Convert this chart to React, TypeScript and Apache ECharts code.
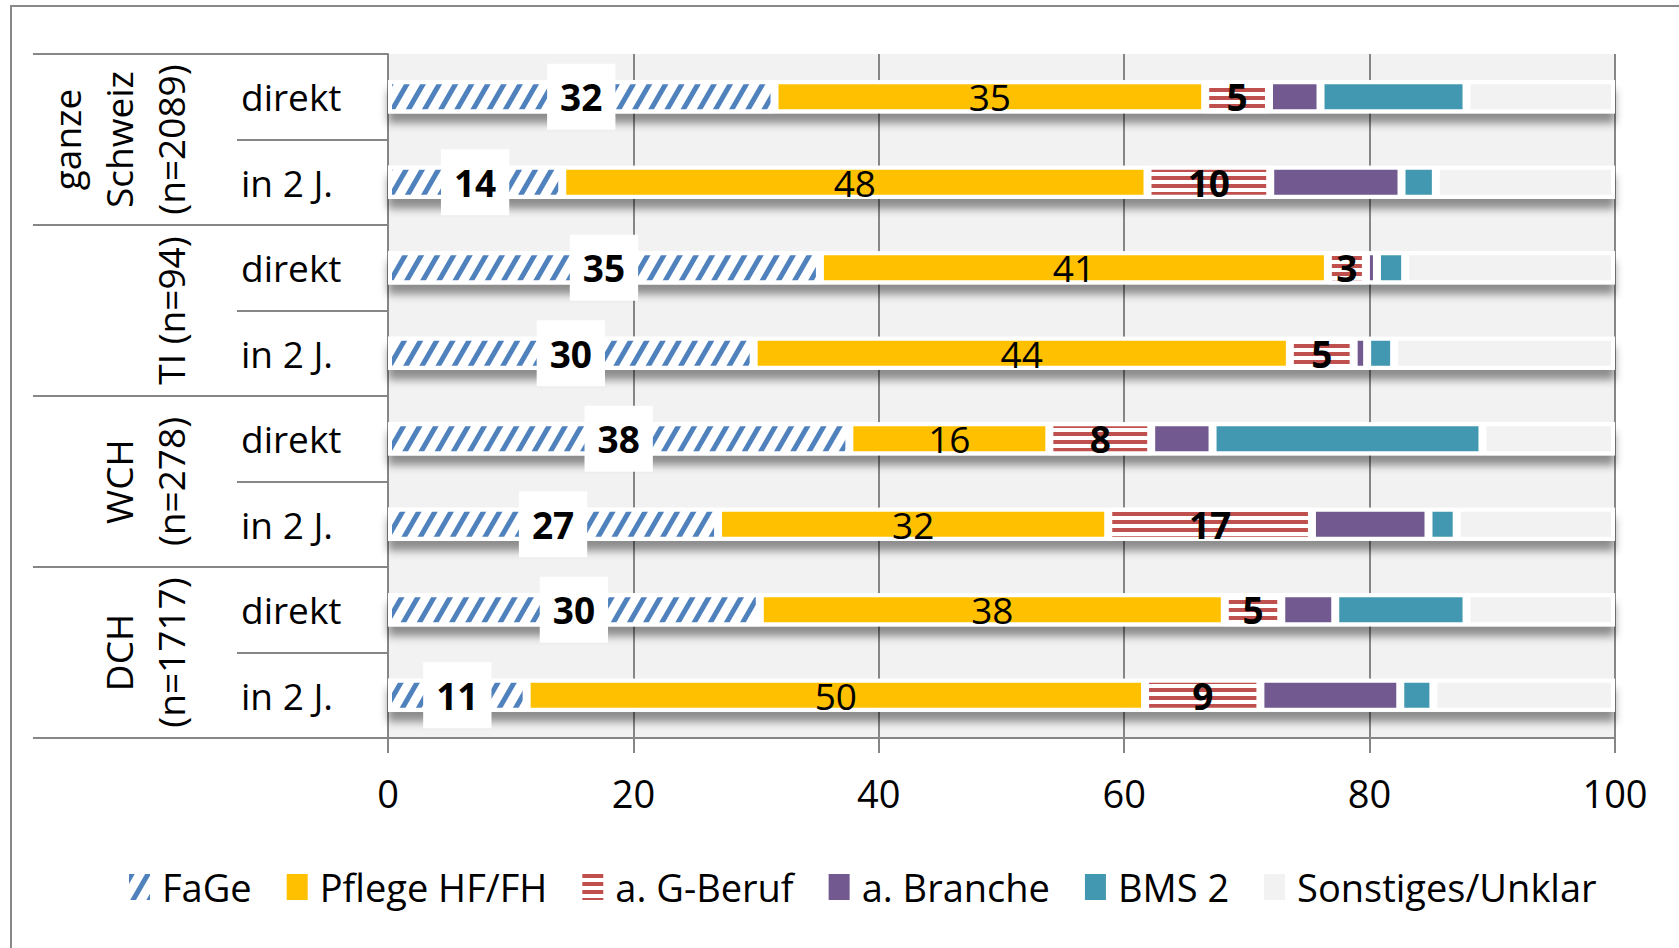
import React, { useEffect, useRef } from "react";
import * as echarts from "echarts";

const rowLabels = ["direkt", "in 2 J.", "direkt", "in 2 J.", "direkt", "in 2 J.", "direkt", "in 2 J."];
const groupLabels = ["ganze\nSchweiz\n(n=2089)", "TI (n=94)", "WCH\n(n=278)", "DCH\n(n=1717)"];
const seriesNames = ["FaGe", "Pflege HF/FH", "a. G-Beruf", "a. Branche", "BMS 2", "Sonstiges/Unklar"];

const fage = [31.5, 14.2, 35.2, 29.8, 37.6, 26.9, 30.3, 11.3];
const pflege = [35.1, 47.7, 41.4, 43.7, 16.3, 31.8, 37.9, 50.4];
const gBeruf = [5.2, 10.0, 3.1, 5.2, 8.3, 16.6, 4.6, 9.4];
const branche = [4.2, 10.7, 0.9, 1.1, 5.0, 9.5, 4.4, 11.4];
const bms = [11.9, 2.8, 2.3, 2.2, 22.0, 2.3, 10.7, 2.7];
const sonstiges = [12.1, 14.6, 17.1, 18.0, 10.8, 12.9, 12.1, 14.8];
// each row totals 100 % (used for the white backing band with its shadow)
const rowTotals = [100, 100, 100, 100, 100, 100, 100, 100];

const FONT = "'Open Sans', 'DejaVu Sans', sans-serif";
const GRAY = "#868686";

export default function App() {
  const ref = useRef<HTMLDivElement>(null);
  useEffect(() => {
    if (!ref.current) return;
    const chart = echarts.init(ref.current, null, { renderer: "svg" });

    const baseItem = {
      borderColor: "#ffffff",
      borderWidth: 4,
    };
    const fmt = (p: any) => String(Math.round(p.value));

    const mk = (name: string, data: number[], itemStyle: any, label: any) => ({
      name,
      type: "bar",
      stack: "total",
      barWidth: 33,
      barGap: "-100%",
      data,
      itemStyle: { ...baseItem, ...itemStyle },
      label,
      emphasis: { disabled: true },
    });

    const series = [
      {
        name: "_band",
        type: "bar",
        barWidth: 33,
        barGap: "-100%",
        data: rowTotals,
        silent: true,
        itemStyle: {
          color: "#ffffff",
          borderColor: "#ffffff",
          borderWidth: 4,
          shadowBlur: 8,
          shadowOffsetY: 10,
          shadowColor: "rgba(0,0,0,0.42)",
        },
        label: { show: false },
        emphasis: { disabled: true },
      },
      mk(
        seriesNames[0],
        fage,
        {
          color: "#ffffff",
          decal: {
            symbol: "rect",
            symbolSize: 1,
            color: "#4F81BD",
            dashArrayX: [1, 0],
            dashArrayY: [5, 8.5],
            rotation: -Math.PI / 3,
          },
        },
        {
          show: true,
          position: "inside",
          formatter: fmt,
          fontFamily: FONT,
          fontSize: 37,
          fontWeight: "bold",
          color: "#000",
          textBorderWidth: 0,
          backgroundColor: "#ffffff",
          padding: [14, 13],
          lineHeight: 38,
        }
      ),
      mk(
        seriesNames[1],
        pflege,
        { color: "#FFC000" },
        {
          show: true,
          position: "inside",
          formatter: fmt,
          fontFamily: FONT,
          fontSize: 37,
          color: "#000",
          textBorderWidth: 0,
        }
      ),
      mk(
        seriesNames[2],
        gBeruf,
        {
          color: "#ffffff",
          decal: {
            symbol: "rect",
            symbolSize: 1,
            color: "#C0504D",
            dashArrayX: [1, 0],
            dashArrayY: [4, 4],
            rotation: 0,
          },
        },
        {
          show: true,
          position: "inside",
          formatter: fmt,
          fontFamily: FONT,
          fontSize: 37,
          fontWeight: "bold",
          color: "#000",
          textBorderWidth: 0,
        }
      ),
      mk(seriesNames[3], branche, { color: "#725990" }, { show: false }),
      mk(seriesNames[4], bms, { color: "#4298B0" }, { show: false }),
      mk(seriesNames[5], sonstiges, { color: "#F2F2F2" }, { show: false }),
    ];

    chart.setOption({
      animation: false,
      grid: {
        left: 388,
        right: 64,
        top: 54,
        bottom: 210,
        show: true,
        backgroundColor: "#F2F2F2",
        borderWidth: 0,
      },
      xAxis: {
        type: "value",
        min: 0,
        max: 100,
        interval: 20,
        axisLine: { show: true, lineStyle: { color: GRAY, width: 2 } },
        axisTick: { show: true, length: 15, lineStyle: { color: GRAY, width: 2 } },
        splitLine: { show: true, lineStyle: { color: GRAY, width: 2 } },
        axisLabel: { fontFamily: FONT, fontSize: 38, color: "#000", margin: 36 },
      },
      yAxis: [
        {
          type: "category",
          data: rowLabels,
          inverse: true,
          axisLine: { show: true, lineStyle: { color: GRAY, width: 2 } },
          axisTick: { show: true, length: 151, lineStyle: { color: GRAY, width: 2 } },
          axisLabel: {
            interval: 0,
            align: "left",
            margin: 147,
            fontFamily: FONT,
            fontSize: 37,
            color: "#000",
          },
        },
        {
          type: "category",
          data: groupLabels,
          inverse: true,
          position: "left",
          axisLine: { show: false },
          axisTick: { show: true, length: 355, lineStyle: { color: GRAY, width: 2 } },
          axisLabel: {
            interval: 0,
            rotate: 90,
            align: "center",
            verticalAlign: "bottom",
            margin: 192,
            lineHeight: 52,
            fontFamily: FONT,
            fontSize: 37,
            color: "#000",
          },
        },
      ],
      legend: {
        data: seriesNames,
        left: 124,
        top: 863,
        icon: "rect",
        itemWidth: 21,
        itemHeight: 26,
        itemGap: 35,
        itemStyle: { borderWidth: 0, shadowBlur: 0, shadowOffsetY: 0 },
        textStyle: { fontFamily: FONT, fontSize: 38, color: "#000", padding: [0, 0, 0, 7] },
        selectedMode: false,
      },
      graphic: [
        {
          type: "rect",
          shape: { x: 11, y: 6, width: 1720, height: 1000 },
          style: { fill: "none", stroke: "#898989", lineWidth: 2 },
          silent: true,
        },
      ],
      series,
    });
    return () => chart.dispose();
  }, []);
  return (
    <div
      ref={ref}
      style={{ position: "absolute", left: 0, top: 0, width: 1679, height: 948, background: "#fff" }}
    />
  );
}
